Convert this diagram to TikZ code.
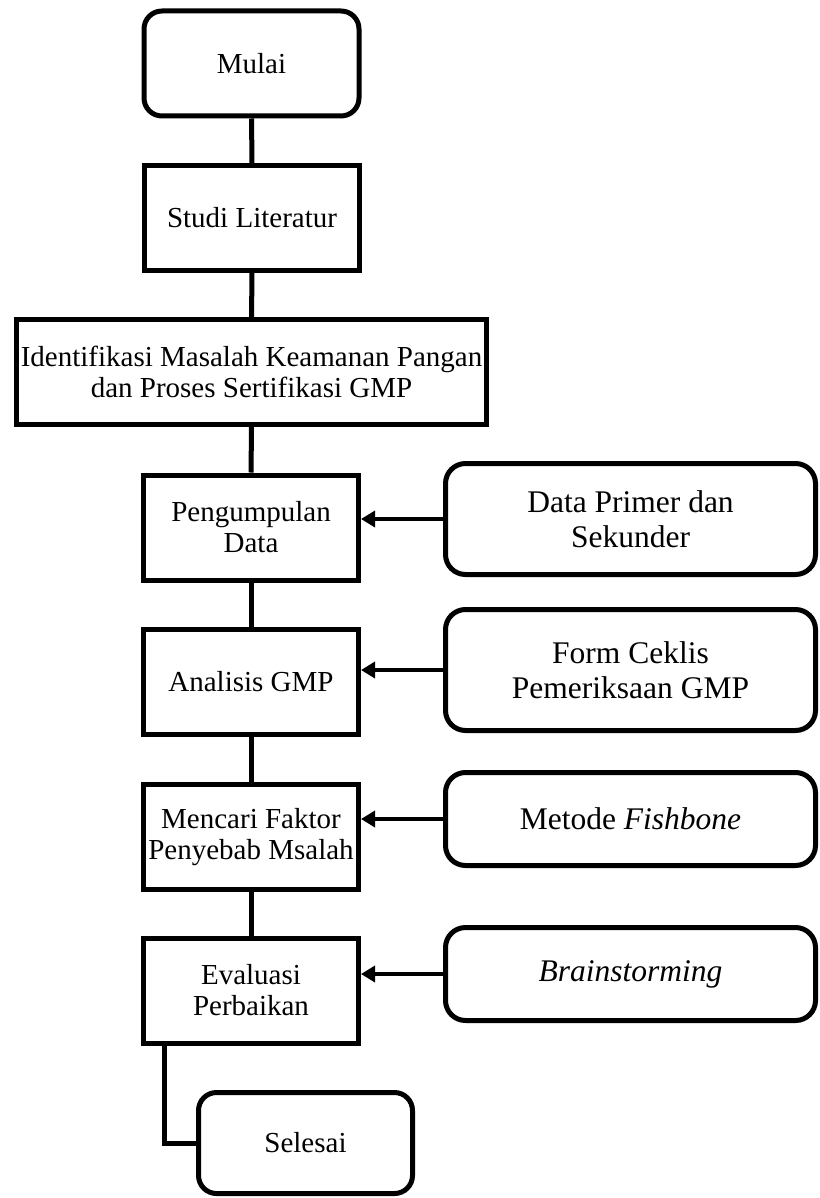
\documentclass[tikz,border=0pt]{standalone}
\usepackage{fontspec}
\setmainfont{Liberation Serif}
\usetikzlibrary{arrows.meta}
\begin{document}
\begin{tikzpicture}[x=1pt,y=1pt]
\tikzstyle{every node}+=[inner sep=0pt, align=center]
\tikzstyle{proses}=[draw=black, line width=5pt, rectangle, minimum width=215pt, minimum height=105pt, font=\fontsize{29}{31}\selectfont]
\tikzstyle{ujung}=[proses, rounded corners=18pt]
\tikzstyle{sumber}=[draw=black, line width=5pt, rectangle, rounded corners=20pt, minimum width=370pt, font=\fontsize{31.5}{35}\selectfont]
\tikzstyle{garis}=[black, line width=5pt]
\tikzstyle{panah}=[black, line width=3.5pt, -{Triangle[length=14pt,width=16pt]}]
\useasboundingbox (0,0) rectangle (819,-1198);
\node [ujung] (mulai) at (251.5,-63.5) {Mulai};
\node [proses] (studi) at (252,-218) {Studi Literatur};
\node [proses, minimum width=470pt] (identifikasi) at (251.5,-372) {Identifikasi Masalah Keamanan Pangan\\dan Proses Sertifikasi GMP};
\node [proses] (pengumpulan) at (251,-527.5) {Pengumpulan\\Data};
\node [proses] (analisis) at (251,-682) {Analisis GMP};
\node [proses] (mencari) at (251,-837) {Mencari Faktor\\Penyebab Msalah};
\node [proses] (evaluasi) at (251,-990.5) {Evaluasi\\Perbaikan};
\node [ujung, minimum width=214pt, minimum height=101pt] (selesai) at (305.5,-1143) {Selesai};
\node [sumber, minimum height=111pt] (data) at (630.5,-519) {Data Primer dan\\Sekunder};
\node [sumber, minimum height=121pt] (form) at (630.5,-670) {Form Ceklis\\Pemeriksaan GMP};
\node [sumber, minimum height=93pt] (metode) at (630.5,-819) {Metode \textit{Fishbone}};
\node [sumber, minimum height=93pt] (brain) at (630.5,-974) {\textit{Brainstorming}};
\draw [garis] (mulai) -- (studi);
\draw [garis] (studi) -- (identifikasi);
\draw [garis] (identifikasi) -- (pengumpulan);
\draw [garis] (pengumpulan) -- (analisis);
\draw [garis] (analisis) -- (mencari);
\draw [garis] (mencari) -- (evaluasi);
\draw [garis] ([xshift=23pt]evaluasi.south west) |- (selesai.west);
\draw [panah] (data.west) -- (pengumpulan.east |- data.west);
\draw [panah] (form.west) -- (analisis.east |- form.west);
\draw [panah] (metode.west) -- (mencari.east |- metode.west);
\draw [panah] (brain.west) -- (evaluasi.east |- brain.west);
\end{tikzpicture}
\end{document}
